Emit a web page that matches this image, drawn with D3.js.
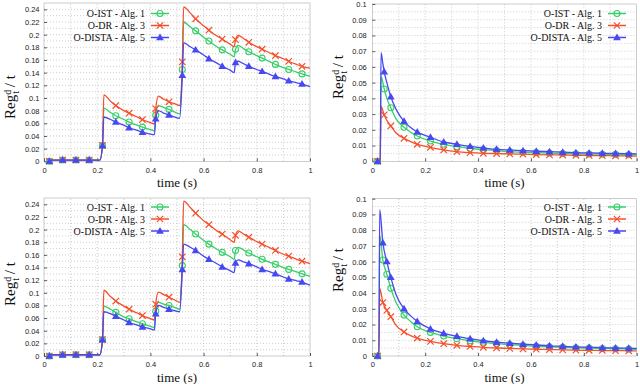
<!DOCTYPE html>
<html>
<head>
<meta charset="utf-8">
<script src="https://cdn.jsdelivr.net/npm/d3@7"></script>
<style>
  body { margin: 0; background: #fff; }
  svg { display: block; }
  .tick text { font-family: "Liberation Sans", Arial, sans-serif; font-size: 7.5px; fill: #222; }
</style>
</head>
<body>
<div id="chart"></div>
<script>
// sample times (s)
var leftTime = [0.02, 0.03, 0.07, 0.12, 0.17, 0.21, 0.22, 0.225, 0.25, 0.27, 0.30, 0.32, 0.35, 0.37, 0.40, 0.415,
  0.42, 0.43, 0.45, 0.47, 0.49, 0.51, 0.52, 0.525, 0.55, 0.57, 0.60, 0.62, 0.65, 0.67, 0.70, 0.715,
  0.72, 0.73, 0.75, 0.77, 0.80, 0.82, 0.85, 0.87, 0.90, 0.92, 0.95, 0.97, 1.0]
var trTime = [0.02, 0.03, 0.033, 0.04, 0.045, 0.055, 0.07, 0.09, 0.12, 0.145, 0.17, 0.22, 0.27, 0.32, 0.37, 0.42,
  0.47, 0.52, 0.57, 0.62, 0.67, 0.72, 0.77, 0.82, 0.87, 0.92, 0.97, 1.0]
var brTime = [0.02, 0.025, 0.028, 0.04, 0.055, 0.07, 0.09, 0.12, 0.145, 0.17, 0.22, 0.27, 0.32, 0.37, 0.42,
  0.47, 0.52, 0.57, 0.62, 0.67, 0.72, 0.77, 0.82, 0.87, 0.92, 0.97, 1.0]

// times where a marker is drawn
var leftMarks = [0.02, 0.07, 0.12, 0.17, 0.22, 0.27, 0.32, 0.37, 0.42, 0.47, 0.52, 0.57, 0.62, 0.67, 0.72, 0.77, 0.82, 0.87, 0.92, 0.97]
var trMarks = [0.02, 0.045, 0.07, 0.12, 0.17, 0.22, 0.27, 0.32, 0.37, 0.42, 0.47, 0.52, 0.57, 0.62, 0.67, 0.72, 0.77, 0.82, 0.87, 0.92, 0.97]
var brMarks = [0.02, 0.04, 0.055, 0.07, 0.12, 0.17, 0.22, 0.27, 0.32, 0.37, 0.42, 0.47, 0.52, 0.57, 0.62, 0.67, 0.72, 0.77, 0.82, 0.87, 0.92, 0.97]

var seriesNames = ['O-IST - Alg. 1', 'O-DR - Alg. 3', 'O-DISTA - Alg. 5']

// top left
var tlIST = [0, 0.002, 0.002, 0.002, 0.002, 0.002, 0.025, 0.084, 0.077, 0.072, 0.066, 0.062, 0.057, 0.054, 0.050, 0.048,
  0.073, 0.088, 0.085, 0.082, 0.078, 0.075, 0.145, 0.220, 0.212, 0.206, 0.196, 0.190, 0.181, 0.176, 0.169, 0.165,
  0.177, 0.183, 0.178, 0.173, 0.167, 0.163, 0.157, 0.153, 0.148, 0.145, 0.141, 0.138, 0.134]
var tlDR = [0, 0.002, 0.002, 0.002, 0.002, 0.002, 0.025, 0.105, 0.095, 0.088, 0.080, 0.076, 0.070, 0.066, 0.061, 0.059,
  0.083, 0.103, 0.098, 0.094, 0.091, 0.088, 0.157, 0.244, 0.234, 0.225, 0.214, 0.207, 0.198, 0.193, 0.185, 0.181,
  0.192, 0.199, 0.194, 0.188, 0.181, 0.177, 0.171, 0.167, 0.162, 0.158, 0.153, 0.150, 0.147]
var tlDISTA = [0, 0.002, 0.002, 0.002, 0.002, 0.002, 0.025, 0.070, 0.066, 0.062, 0.057, 0.053, 0.049, 0.046, 0.043, 0.042,
  0.067, 0.080, 0.076, 0.073, 0.070, 0.068, 0.136, 0.187, 0.181, 0.176, 0.168, 0.162, 0.155, 0.150, 0.144, 0.140,
  0.156, 0.158, 0.154, 0.150, 0.145, 0.142, 0.137, 0.134, 0.130, 0.127, 0.124, 0.122, 0.118]

// top right
var trIST = [0, 0, 0.054, 0.050, 0.046, 0.040, 0.034, 0.027, 0.0216, 0.0185, 0.0161, 0.0129, 0.0108, 0.0093, 0.0083, 0.0074,
  0.0068, 0.0061, 0.0058, 0.0055, 0.0052, 0.0050, 0.0048, 0.0046, 0.0045, 0.0044, 0.0042, 0.0041]
var trDR = [0, 0, 0.035, 0.032, 0.0295, 0.026, 0.0225, 0.018, 0.0146, 0.0125, 0.0108, 0.0089, 0.0072, 0.0061, 0.0055, 0.0051,
  0.0049, 0.0047, 0.0045, 0.0043, 0.0041, 0.0040, 0.0038, 0.0037, 0.0036, 0.0035, 0.0034, 0.0033]
var trDISTA = [0, 0, 0.069, 0.062, 0.057, 0.050, 0.041, 0.033, 0.0254, 0.0215, 0.0186, 0.0153, 0.0123, 0.0108, 0.0095, 0.0085,
  0.0076, 0.0072, 0.0068, 0.0064, 0.0061, 0.0058, 0.0055, 0.0053, 0.0051, 0.0050, 0.0048, 0.0047]

// bottom left
var blIST = [0, 0.002, 0.002, 0.002, 0.002, 0.002, 0.026, 0.079, 0.074, 0.069, 0.062, 0.059, 0.054, 0.051, 0.047, 0.045,
  0.071, 0.085, 0.082, 0.080, 0.077, 0.074, 0.143, 0.208, 0.200, 0.193, 0.183, 0.177, 0.169, 0.164, 0.157, 0.153,
  0.167, 0.172, 0.168, 0.163, 0.157, 0.153, 0.148, 0.145, 0.140, 0.137, 0.133, 0.130, 0.126]
var blDR = [0, 0.002, 0.002, 0.002, 0.002, 0.002, 0.026, 0.104, 0.094, 0.087, 0.079, 0.074, 0.068, 0.064, 0.059, 0.057,
  0.082, 0.101, 0.097, 0.093, 0.089, 0.085, 0.157, 0.245, 0.235, 0.226, 0.214, 0.208, 0.198, 0.193, 0.184, 0.180,
  0.191, 0.198, 0.193, 0.188, 0.181, 0.177, 0.171, 0.167, 0.161, 0.158, 0.153, 0.150, 0.146]
var blDISTA = [0, 0.002, 0.002, 0.002, 0.002, 0.002, 0.026, 0.070, 0.067, 0.063, 0.057, 0.053, 0.049, 0.046, 0.043, 0.041,
  0.067, 0.080, 0.077, 0.074, 0.072, 0.070, 0.137, 0.177, 0.172, 0.167, 0.158, 0.153, 0.146, 0.141, 0.135, 0.132,
  0.147, 0.152, 0.149, 0.146, 0.141, 0.137, 0.133, 0.130, 0.125, 0.122, 0.119, 0.117, 0.112]

// bottom right
var brIST = [0, 0, 0.077, 0.061, 0.052, 0.043, 0.034, 0.026, 0.022, 0.0186, 0.015, 0.0127, 0.011, 0.0097, 0.0087,
  0.0079, 0.0072, 0.0067, 0.0062, 0.0058, 0.0055, 0.0052, 0.0050, 0.0048, 0.0046, 0.0044, 0.0043]
var brDR = [0, 0, 0.043, 0.034, 0.029, 0.025, 0.0195, 0.0153, 0.013, 0.0114, 0.0093, 0.0078, 0.0068, 0.0061, 0.0055,
  0.0051, 0.0048, 0.0045, 0.0043, 0.0041, 0.0039, 0.0037, 0.0036, 0.0035, 0.0034, 0.0033, 0.0032]
var brDISTA = [0, 0, 0.093, 0.072, 0.060, 0.050, 0.039, 0.030, 0.0255, 0.022, 0.0172, 0.0144, 0.0125, 0.011, 0.0097,
  0.0088, 0.0081, 0.0075, 0.0070, 0.0065, 0.0062, 0.0058, 0.0056, 0.0053, 0.0051, 0.0049, 0.0048]

var leftTicks = [0, 0.02, 0.04, 0.06, 0.08, 0.1, 0.12, 0.14, 0.16, 0.18, 0.2, 0.22, 0.24]
var rightTicks = [0, 0.01, 0.02, 0.03, 0.04, 0.05, 0.06, 0.07, 0.08, 0.09, 0.1]
var xTicks = [0, 0.2, 0.4, 0.6, 0.8, 1]

var colors = ['#36cf68', '#f4502c', '#4848f2']
var width = 640, height = 384

var svg = d3.select('#chart').append('svg')
  .attr('width', width)
  .attr('height', height)

var panels = [
  { x0: 44, x1: 310, y0: 161.3, y1: 3, ymax: 0.25, ticks: leftTicks, minor: 0.01, t: leftTime, marks: leftMarks,
    vals: [tlIST, tlDR, tlDISTA], legX: 145, legY: 13.5, labX: 15, labY: 97, xlabY: 187 },
  { x0: 372.3, x1: 636.7, y0: 161.3, y1: 4, ymax: 0.1, ticks: rightTicks, minor: 0.005, t: trTime, marks: trMarks,
    vals: [trIST, trDR, trDISTA], legX: 602, legY: 13.5, labX: 343, labY: 77, xlabY: 187 },
  { x0: 44, x1: 310, y0: 356, y1: 198, ymax: 0.25, ticks: leftTicks, minor: 0.01, t: leftTime, marks: leftMarks,
    vals: [blIST, blDR, blDISTA], legX: 145, legY: 207, labX: 15, labY: 284, xlabY: 382 },
  { x0: 372.3, x1: 636.7, y0: 356, y1: 198.7, ymax: 0.1, ticks: rightTicks, minor: 0.005, t: brTime, marks: brMarks,
    vals: [brIST, brDR, brDISTA], legX: 602, legY: 207, labX: 343, labY: 270, xlabY: 382 }
]

panels.forEach(drawPanel)

function drawMarker(g, k, cx, cy) {
  if (k == 0) {
    g.append('circle').attr('cx', cx).attr('cy', cy).attr('r', 3)
      .attr('fill', 'none').attr('stroke', colors[0]).attr('stroke-width', 1.1)
  } else if (k == 1) {
    var s = 3.2
    g.append('path')
      .attr('d', 'M' + (cx - s) + ',' + (cy - s) + 'L' + (cx + s) + ',' + (cy + s) +
        'M' + (cx - s) + ',' + (cy + s) + 'L' + (cx + s) + ',' + (cy - s))
      .attr('stroke', colors[1]).attr('stroke-width', 1.2)
  } else {
    g.append('path')
      .attr('d', d3.symbol().type(d3.symbolTriangle).size(26)())
      .attr('transform', 'translate(' + cx + ',' + (cy + 0.5) + ')')
      .attr('fill', colors[2])
  }
}

function drawPanel(p) {
  var x = d3.scaleLinear().domain([0, 1]).range([p.x0, p.x1])
  var y = d3.scaleLinear().domain([0, p.ymax]).range([p.y0, p.y1])

  var g = svg.append('g')

  // dotted grid
  var grid = g.append('g')
  d3.range(0.1, 1, 0.1).forEach(function(v) {
    grid.append('line').attr('x1', x(v)).attr('x2', x(v)).attr('y1', p.y0).attr('y2', p.y1)
  })
  d3.range(1, Math.round(p.ymax / p.minor)).forEach(function(i) {
    grid.append('line').attr('x1', p.x0).attr('x2', p.x1).attr('y1', y(i * p.minor)).attr('y2', y(i * p.minor))
  })
  grid.selectAll('line')
    .attr('stroke', '#b8b8b8')
    .attr('stroke-width', 0.7)
    .attr('stroke-dasharray', '1,2')

  // frame
  g.append('rect')
    .attr('x', p.x0).attr('y', p.y1)
    .attr('width', p.x1 - p.x0).attr('height', p.y0 - p.y1)
    .attr('fill', 'none').attr('stroke', '#aaa').attr('stroke-width', 0.6)

  var yAxis = g.append('g')
    .attr('transform', 'translate(' + p.x0 + ',0)')
    .call(d3.axisLeft(y).tickValues(p.ticks).tickSize(-3).tickPadding(p.ymax < 0.2 ? 5.5 : 4.5).tickFormat(d3.format('~g')))
  var xAxis = g.append('g')
    .attr('transform', 'translate(0,' + p.y0 + ')')
    .call(d3.axisBottom(x).tickValues(xTicks).tickSize(-3).tickPadding(6).tickFormat(d3.format('~g')))
  ;[yAxis, xAxis].forEach(function(a) {
    a.select('.domain').remove()
    a.selectAll('.tick line').attr('stroke', '#333').attr('stroke-width', 0.8)
  })

  // series
  var line = d3.line()
    .x(function(d) { return x(d[0]) })
    .y(function(d) { return y(d[1]) })
    .curve(d3.curveMonotoneX)

  p.vals.forEach(function(vals, k) {
    var pts = p.t.map(function(t, i) { return [t, vals[i]] })
    g.append('path')
      .datum(pts)
      .attr('d', line)
      .attr('fill', 'none')
      .attr('stroke', colors[k])
      .attr('stroke-width', 1.3)
    var mg = g.append('g')
    pts.forEach(function(d) {
      if (p.marks.indexOf(d[0]) >= 0) drawMarker(mg, k, x(d[0]), y(d[1]))
    })
  })

  // legend
  seriesNames.forEach(function(name, k) {
    var ly = p.legY + k * 12
    g.append('text')
      .attr('x', p.legX).attr('y', ly + 3.5)
      .attr('text-anchor', 'end')
      .style('font-family', '"Liberation Serif", "Times New Roman", serif')
      .style('font-size', '10px')
      .attr('fill', '#111')
      .text(name)
    g.append('line')
      .attr('x1', p.legX + 6).attr('x2', p.legX + 24)
      .attr('y1', ly).attr('y2', ly)
      .attr('stroke', colors[k]).attr('stroke-width', 1.5)
    drawMarker(g, k, p.legX + 15, ly)
  })

  // axis labels
  g.append('text')
    .attr('x', (p.x0 + p.x1) / 2).attr('y', p.xlabY)
    .attr('text-anchor', 'middle')
    .style('font-family', '"Liberation Serif", "Times New Roman", serif')
    .style('font-size', '13px')
    .attr('fill', '#111')
    .text('time (s)')

  var yl = g.append('text')
    .attr('transform', 'translate(' + p.labX + ',' + p.labY + ') rotate(-90)')
    .attr('text-anchor', 'middle')
    .style('font-family', '"Liberation Serif", "Times New Roman", serif')
    .style('font-size', '15px')
    .attr('fill', '#111')
  yl.append('tspan').text('Reg')
  yl.append('tspan').attr('dy', -4.5).style('font-size', '10px').text('d')
  yl.append('tspan').attr('dx', -4).attr('dy', 8.5).style('font-size', '10px').text('t')
  yl.append('tspan').attr('dy', -4).text(' / t')
}
</script>
</body>
</html>
